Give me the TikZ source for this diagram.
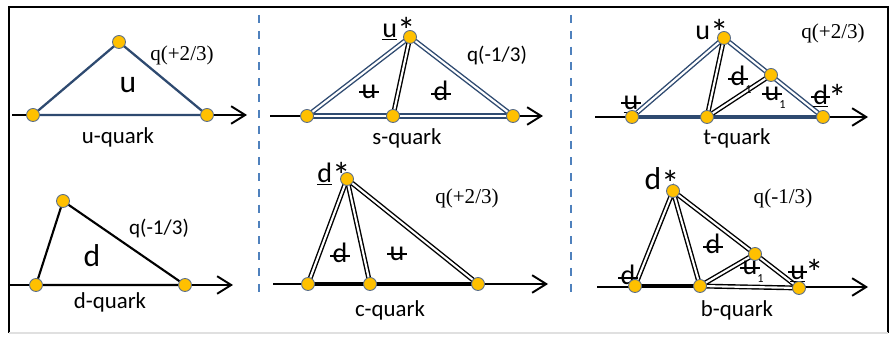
\documentclass[tikz,border=0pt]{standalone}
\usepackage{fontspec}
\setmainfont{Carlito}
\newfontfamily\qfont{Liberation Serif}
\usetikzlibrary{arrows.meta}
\definecolor{navy}{HTML}{2E4A70}
\definecolor{dotyel}{HTML}{FFC000}
\definecolor{dotrim}{HTML}{5A6E8C}
\definecolor{sepblue}{HTML}{4F81BD}
\pgfdeclarelayer{bg}
\pgfsetlayers{bg,main}
\newsavebox\strkbox
\newcommand\strk[1]{\sbox\strkbox{#1}\rlap{\kern-.08em\rule[.42ex]{\dimexpr\wd\strkbox+.16em\relax}{.07em}}\usebox\strkbox}
\newcommand\one{\raisebox{-.6ex}{\scriptsize 1}}
\newcommand\st{\raisebox{-.45ex}{\fontsize{21}{21}\selectfont *}}

\begin{document}
\begin{tikzpicture}[x=0.02cm,y=-0.02cm,
  vtx/.style={circle,fill=dotyel,draw=dotrim,line width=.5pt,inner sep=0pt,minimum size=7.4pt},
  axis/.style={line width=1.1pt,-{Straight Barb[length=8pt,width=10pt]}},
  sep/.style={draw=sepblue,line width=1.3pt,dash pattern=on 4.5pt off 4.5pt},
  nv/.style={draw=navy,line width=1.3pt,line join=round},
  bk/.style={draw=black,line width=1.2pt,line join=round},
  dbl/.style={draw=#1,double=white,line width=.8pt,double distance=1.2pt},
  base/.style={draw=#1,line width=2.5pt},
  sym/.style={font=\fontsize{16}{16}\selectfont,inner sep=0pt},
  qname/.style={font=\fontsize{13}{13}\selectfont,inner sep=0pt},
  qs/.style={font=\fontsize{12}{12}\selectfont,inner sep=0pt},
  qt/.style={font=\qfont\fontsize{12}{12}\selectfont,inner sep=0pt},
]
\useasboundingbox (0,0) rectangle (893,337);
% frame and separators
\draw[line width=1.2pt] (9,333) -- (9,7) -- (888,7) -- (888,333);
\draw[black!12,line width=.6pt] (9,333) -- (888,333);
\draw[sep] (259,15) -- (259,293);
\draw[sep] (571,15) -- (571,293);

% u-quark
\coordinate (ua0) at (12,115);
\coordinate (ua1) at (247,115);
\node[sym,font=\fontsize{18}{18}\selectfont] (ulab) at (128,85) {u};
\node[qt] (uq) at (182,55) {q(+2/3)};
\node[qname] (uname) at (118,137) {u-quark};
\node[vtx] (uL) at (33,115) {};
\node[vtx] (uT) at (119,42) {};
\node[vtx] (uR) at (207,115) {};
\begin{pgfonlayer}{bg}
\draw[axis] (ua0) -- (ua1);
\draw[nv] (uL.center) -- (uT.center) -- (uR.center) -- cycle;
\end{pgfonlayer}

% d-quark
\coordinate (da0) at (10,285);
\coordinate (da1) at (233,285);
\node[sym,font=\fontsize{18}{18}\selectfont] (dlab) at (92,256) {d};
\node[qs] (dq) at (159,228) {q(-1/3)};
\node[qname] (dname) at (110,302) {d-quark};
\node[vtx] (dL) at (36,285) {};
\node[vtx] (dT) at (63,201) {};
\node[vtx] (dR) at (185,285) {};
\begin{pgfonlayer}{bg}
\draw[axis] (da0) -- (da1);
\draw[bk] (dL.center) -- (dT.center) -- (dR.center) -- cycle;
\end{pgfonlayer}

% s-quark
\coordinate (sa0) at (270,116);
\coordinate (sa1) at (543,116);
\node[sym] (sstar) at (399,30) {\underline{u}\st};
\node[sym] (su) at (369,92) {\strk{u}};
\node[sym] (sd) at (441,91) {\strk{d}};
\node[qs] (sq) at (497,55) {q(-1/3)};
\node[qname] (sname) at (407,138) {s-quark};
\node[vtx] (sL) at (307,116) {};
\node[vtx] (sM) at (393,116) {};
\node[vtx] (sR) at (513,116) {};
\node[vtx] (sT) at (410,37) {};
\begin{pgfonlayer}{bg}
\draw[axis] (sa0) -- (sa1);
\draw[dbl=navy,line width=1pt] (sL.center) -- (sR.center);
\draw[dbl=navy] (sL.center) -- (sT.center) -- (sR.center);
\draw[dbl=black] (sT.center) -- (sM.center);
\end{pgfonlayer}

% t-quark
\coordinate (ta0) at (595,117);
\coordinate (ta1) at (868,117);
\node[sym] (tstar) at (712,32) {u\st};
\node[sym] (tu) at (631,105) {\underline{\strk{u}}};
\node[sym] (td) at (741,80) {\strk{d}\one};
\node[sym] (tu1) at (775,98) {\strk{u}\one};
\node[sym] (tdstar) at (830,97) {\underline{\strk{d}}\st};
\node[qt] (tq) at (833,33) {q(+2/3)};
\node[qname] (tname) at (737,138) {t-quark};
\node[vtx] (tL) at (632,117) {};
\node[vtx] (tM) at (707,117) {};
\node[vtx] (tR) at (823,117) {};
\node[vtx] (tT) at (724,38) {};
\node[vtx] (tQ) at (771,75) {};
\begin{pgfonlayer}{bg}
\draw[axis] (ta0) -- (ta1);
\draw[base=navy] (tL.center) -- (tR.center);
\draw[dbl=navy] (tL.center) -- (tT.center) -- (tR.center);
\draw[dbl=black] (tT.center) -- (tM.center);
\draw[dbl=black] (tM.center) -- (tQ.center);
\end{pgfonlayer}

% c-quark
\coordinate (ca0) at (273,284);
\coordinate (ca1) at (548,284);
\node[sym] (cstar) at (334,175) {\underline{d}\st};
\node[sym] (cd) at (340,253) {\strk{d}};
\node[sym] (cu) at (397,254) {\strk{u}};
\node[qt] (cq) at (467,198) {q(+2/3)};
\node[qname] (cname) at (390,310) {c-quark};
\node[vtx] (cL) at (308,284) {};
\node[vtx] (cM) at (370,284) {};
\node[vtx] (cR) at (478,284) {};
\node[vtx] (cT) at (347,179) {};
\begin{pgfonlayer}{bg}
\draw[axis] (ca0) -- (ca1);
\draw[base=black] (cL.center) -- (cR.center);
\draw[dbl=black] (cL.center) -- (cT.center) -- (cR.center);
\draw[dbl=black] (cT.center) -- (cM.center);
\end{pgfonlayer}

% b-quark
\coordinate (ba0) at (597,287);
\coordinate (ba1) at (868,287);
\node[sym,font=\fontsize{18}{18}\selectfont] (bstar) at (662,182) {d\st};
\node[sym] (bd) at (713,244) {\strk{d}};
\node[sym] (bu1) at (753,272) {\strk{u}\one};
\node[sym] (bustar) at (807,272) {\underline{\strk{u}}\st};
\node[sym] (bdl) at (628,275) {\strk{d}};
\node[qt] (bq) at (783,198) {q(-1/3)};
\node[qname] (bname) at (737,310) {b-quark};
\node[vtx] (bL) at (635,286) {};
\node[vtx] (bM) at (700,286) {};
\node[vtx] (bR) at (799,288) {};
\node[vtx] (bT) at (673,191) {};
\node[vtx] (bQ) at (755,254) {};
\begin{pgfonlayer}{bg}
\draw[axis] (ba0) -- (ba1);
\draw[base=black,line width=2pt] (bL.center) -- (bM.center);
\draw[dbl=black] (bM.center) -- (bR.center);
\draw[dbl=black] (bL.center) -- (bT.center) -- (bM.center);
\draw[dbl=black] (bT.center) -- (bQ.center) -- (bR.center);
\draw[dbl=black] (bM.center) -- (bQ.center);
\end{pgfonlayer}
\end{tikzpicture}
\end{document}
